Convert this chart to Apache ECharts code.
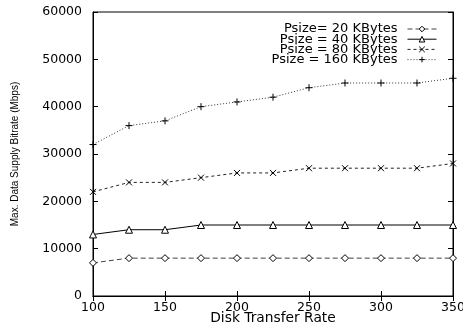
<!DOCTYPE html>
<html><head><meta charset="utf-8">
<script src="https://cdn.jsdelivr.net/npm/echarts@6/dist/echarts.min.js"></script>
<style>html,body{margin:0;padding:0;background:#fff}#c{width:463px;height:326px}</style>
</head><body><div id="c"></div>
<script>
const rates = [100,125,150,175,200,225,250,275,300,325,350];
const seriesNames = ['Psize= 20 KBytes','Psize = 40 KBytes','Psize = 80 KBytes','Psize = 160 KBytes'];
const p20  = [7000,8000,8000,8000,8000,8000,8000,8000,8000,8000,8000];
const p40  = [13000,14000,14000,15000,15000,15000,15000,15000,15000,15000,15000];
const p80  = [22000,24000,24000,25000,26000,26000,27000,27000,27000,27000,28000];
const p160 = [32000,36000,37000,40000,41000,42000,44000,45000,45000,45000,46000];
const xTicks = [100,150,200,250,300,350];
const yTicks = [0,10000,20000,30000,40000,50000,60000];

const FONT = 'DejaVu Sans, Liberation Sans, sans-serif';
const SANS = 'Liberation Sans, Arial, sans-serif';
const pairs = v => rates.map((x,i)=>[x,v[i]]);
const PLUS = 'path://M0,5L10,5M5,0L5,10';
const CROSS = 'path://M0,0L10,10M10,0L0,10';

function mk(name, data, symbol, size, dash, fill, lc){
  return {
    name, type:'line', data:pairs(data), xAxisIndex:0, yAxisIndex:0,
    symbol, symbolSize:size, showAllSymbol:true,
    lineStyle:{color:lc, width:1, type:dash},
    itemStyle:{color:fill, borderColor:'#000', borderWidth:1},
    emphasis:{disabled:true}, animation:false
  };
}

const chart = echarts.init(document.getElementById('c'), null, {renderer:'canvas'});
chart.setOption({
  animation:false,
  grid:{left:93, right:10, top:12, bottom:30, show:true, borderColor:'#000', borderWidth:1,
        outerBoundsMode:'none', containLabel:false},
  legend:{
    data:seriesNames, orient:'vertical', right:21, top:17.5, align:'right',
    itemWidth:29, itemHeight:7, itemGap:-2.8,
    lineStyle:{width:1},
    itemStyle:{borderWidth:1},
    textStyle:{fontFamily:FONT, fontSize:13, color:'#000', padding:[0,5,0,0]}
  },
  xAxis:[{
    type:'value', min:100, max:350, interval:50,
    name:'Disk Transfer Rate', nameLocation:'middle', nameGap:15.5, nameMoveOverlap:false,
    nameTextStyle:{fontFamily:FONT, fontSize:13.8, color:'#000'},
    axisLine:{lineStyle:{color:'#000'}},
    axisTick:{inside:true, length:5, lineStyle:{color:'#000'}},
    axisLabel:{fontFamily:FONT, fontSize:12.5, color:'#000', margin:5,
      formatter: v => xTicks.includes(v) ? String(v) : ''},
    splitLine:{show:false}
  },{
    type:'value', min:100, max:350, interval:50, position:'top',
    axisLine:{lineStyle:{color:'#000'}},
    axisTick:{inside:true, length:5, lineStyle:{color:'#000'}},
    axisLabel:{show:false}, splitLine:{show:false}
  }],
  yAxis:[{
    type:'value', min:0, max:60000, interval:10000,
    name:'Max. Data Supply Bitrate (Mbps)', nameLocation:'middle', nameGap:73, nameMoveOverlap:false,
    nameTextStyle:{fontFamily:SANS, fontSize:10, color:'#000'},
    axisLine:{show:true, lineStyle:{color:'#000'}},
    axisTick:{show:true, inside:true, length:5, lineStyle:{color:'#000'}},
    axisLabel:{fontFamily:FONT, fontSize:12.5, color:'#000', margin:11,
      formatter: v => yTicks.includes(v) ? String(v) : ''},
    splitLine:{show:false}
  },{
    type:'value', min:0, max:60000, interval:10000, position:'right',
    axisLine:{show:true, lineStyle:{color:'#000'}},
    axisTick:{show:true, inside:true, length:5, lineStyle:{color:'#000'}},
    axisLabel:{show:false}, splitLine:{show:false}
  }],
  series:[
    mk(seriesNames[0], p20, 'diamond', 7, [5,3], '#fff', '#444'),
    mk(seriesNames[1], p40, 'triangle', 7, 'solid', '#fff', '#000'),
    mk(seriesNames[2], p80, CROSS, 6, [3,3], 'none', '#222'),
    mk(seriesNames[3], p160, PLUS, 7, [1,2], 'none', '#333')
  ]
});
</script></body></html>
